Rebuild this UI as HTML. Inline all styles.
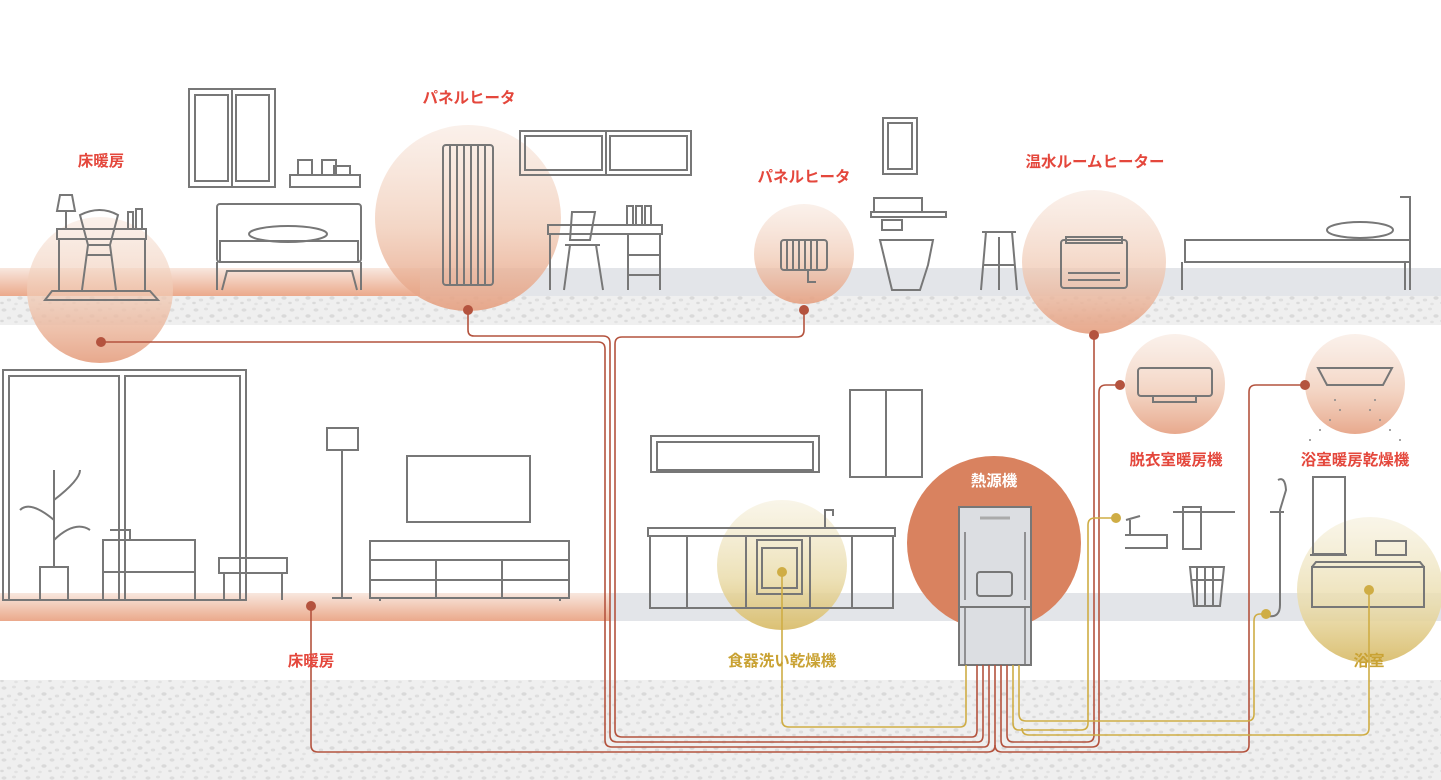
<!DOCTYPE html>
<html><head><meta charset="utf-8"><style>
html,body{margin:0;padding:0;background:#fff;}
svg{display:block;}
text{font-family:"Liberation Sans","Noto Sans CJK JP",sans-serif;font-size:15.5px;font-weight:bold;}
</style></head><body>
<svg width="1441" height="780" viewBox="0 0 1441 780" xmlns="http://www.w3.org/2000/svg">
<defs>
<pattern id="sp" width="24" height="18" patternUnits="userSpaceOnUse">
<rect width="24" height="18" fill="#efefef"/>
<ellipse cx="4" cy="4" rx="2.5" ry="1.6" fill="#dcdcdc"/>
<ellipse cx="14" cy="3" rx="2" ry="1.4" fill="#e0e0e0"/>
<ellipse cx="20" cy="10" rx="2.6" ry="1.7" fill="#d9d9d9"/>
<ellipse cx="9" cy="12" rx="2.2" ry="1.5" fill="#dedede"/>
<ellipse cx="2" cy="15" rx="1.8" ry="1.2" fill="#dadada"/>
<ellipse cx="16" cy="16" rx="1.8" ry="1.2" fill="#e2e2e2"/>
</pattern>
<linearGradient id="pk" x1="0" y1="0" x2="0" y2="1">
<stop offset="0" stop-color="#f8e7de"/><stop offset="1" stop-color="#eba98b"/></linearGradient>
<linearGradient id="cpk" x1="0" y1="0" x2="0" y2="1">
<stop offset="0" stop-color="#f6e2d6" stop-opacity="0.5"/><stop offset="0.55" stop-color="#f0c9b3" stop-opacity="0.75"/><stop offset="1" stop-color="#e59f80" stop-opacity="0.9"/></linearGradient>
<linearGradient id="cgd" x1="0" y1="0" x2="0" y2="1">
<stop offset="0" stop-color="#f5efda" stop-opacity="0.6"/><stop offset="0.6" stop-color="#eadcab" stop-opacity="0.85"/><stop offset="1" stop-color="#d9bd6c" stop-opacity="0.95"/></linearGradient>
</defs>

<rect x="0" y="268" width="1441" height="28" fill="#e3e5e9"/>
<rect x="0" y="268" width="420" height="28" fill="url(#pk)"/>
<rect x="0" y="296" width="1441" height="29" fill="url(#sp)"/>
<rect x="0" y="593" width="1441" height="28" fill="#e3e5e9"/>
<rect x="0" y="593" width="610" height="28" fill="url(#pk)"/>
<rect x="0" y="680" width="1441" height="100" fill="url(#sp)"/>

<circle cx="100" cy="290" r="73" fill="url(#cpk)"/>
<circle cx="468" cy="218" r="93" fill="url(#cpk)"/>
<circle cx="804" cy="254" r="50" fill="url(#cpk)"/>
<circle cx="1094" cy="262" r="72" fill="url(#cpk)"/>
<circle cx="1175" cy="384" r="50" fill="url(#cpk)"/>
<circle cx="1355" cy="384" r="50" fill="url(#cpk)"/>
<circle cx="994" cy="543" r="87" fill="#d9825f"/>
<circle cx="782" cy="565" r="65" fill="url(#cgd)"/>
<circle cx="1370" cy="590" r="73" fill="url(#cgd)"/>

<g fill="none" stroke="#777" stroke-width="2">
<rect x="189" y="89" width="86" height="98"/><line x1="232" y1="89" x2="232" y2="187"/><rect x="195" y="95" width="33" height="86"/><rect x="236" y="95" width="33" height="86"/>
<rect x="290" y="175" width="70" height="12"/><rect x="298" y="160" width="14" height="15"/><rect x="322" y="160" width="14" height="15"/><rect x="334" y="166" width="16" height="9"/>
<rect x="217" y="204" width="144" height="58" rx="3"/><rect x="220" y="241" width="138" height="21"/><ellipse cx="288" cy="234" rx="39" ry="8"/>
<path d="M217 262 V290 M361 262 V290 M222 290 L227 271 H352 L357 290"/>
<rect x="57" y="229" width="89" height="10"/><line x1="59" y1="239" x2="59" y2="290"/><line x1="145" y1="239" x2="145" y2="290"/>
<path d="M60 195 H72 L75 211 H57 Z"/><line x1="66" y1="211" x2="66" y2="229"/>
<path d="M80 215 Q100 205 118 215 L110 245 H88 Z"/><path d="M88 245 L82 290 M110 245 L116 290 M86 255 H112"/>
<path d="M45 300 L52 291 H150 L158 300 Z"/>
<rect x="128" y="212" width="5" height="17"/><rect x="136" y="209" width="6" height="20"/>
<rect x="443" y="145" width="50" height="140" rx="3"/><path d="M450 145 V285 M457 145 V285 M464 145 V285 M471 145 V285 M478 145 V285 M485 145 V285"/>
<rect x="520" y="131" width="171" height="44"/><line x1="606" y1="131" x2="606" y2="175"/><rect x="525" y="136" width="77" height="34"/><rect x="610" y="136" width="77" height="34"/>
<rect x="548" y="225" width="114" height="9"/><path d="M550 234 V290 M660 234 V290 M628 234 V290 M628 255 H660 M628 275 H660"/>
<path d="M572 212 H595 L590 240 H570 Z M565 245 H600 M570 245 L564 290 M596 245 L603 290"/>
<rect x="627" y="206" width="6" height="19"/><rect x="636" y="206" width="6" height="19"/><rect x="645" y="206" width="6" height="19"/>
<rect x="781" y="240" width="46" height="30" rx="3"/><path d="M787 240 V270 M793 240 V270 M799 240 V270 M805 240 V270 M811 240 V270 M817 240 V270 M808 270 V282 H816"/>
<rect x="883" y="118" width="34" height="56"/><rect x="888" y="123" width="24" height="46"/>
<rect x="874" y="198" width="48" height="14"/><rect x="871" y="212" width="75" height="5"/><rect x="882" y="220" width="20" height="10"/>
<path d="M880 240 H933 L928 265 L920 290 H892 L886 265 Z"/>
<path d="M982 232 H1016 M986 232 L981 290 M1012 232 L1017 290 M983 265 H1014 M999 237 V290"/>
<rect x="1061" y="240" width="66" height="48" rx="3"/><rect x="1066" y="237" width="56" height="6"/>
<path d="M1068 273 H1120 M1068 280 H1120"/>
<path d="M1185 240 H1410 V262 H1185 Z M1400 197 L1410 197 V290 M1182 262 V290 M1405 262 V290"/><ellipse cx="1360" cy="230" rx="33" ry="8"/>
<rect x="3" y="370" width="243" height="230"/><rect x="9" y="376" width="110" height="224"/><rect x="125" y="376" width="115" height="224"/>
<path d="M40 600 V567 H68 V600 M54 567 V470 M54 520 Q30 500 20 510 M54 500 Q80 480 80 470 M54 540 Q75 520 90 530"/>
<path d="M103 600 V540 H195 V600 M110 530 H130 V540 M103 572 H195"/>
<rect x="219" y="558" width="68" height="15"/><path d="M224 573 V600 M282 573 V600"/>
<rect x="327" y="428" width="31" height="22"/><path d="M342 450 V598 M332 598 H352"/>
<rect x="407" y="456" width="123" height="66"/>
<rect x="370" y="541" width="199" height="57"/><path d="M370 560 H569 M370 580 H569 M436 560 V598 M502 560 V598 M380 598 V601 M560 598 V601"/>
<rect x="651" y="436" width="168" height="36"/><rect x="657" y="442" width="156" height="28"/>
<rect x="850" y="390" width="72" height="87"/><line x1="886" y1="390" x2="886" y2="477"/>
<rect x="648" y="528" width="247" height="8"/><rect x="650" y="536" width="243" height="72"/>
<path d="M687 536 V608 M746 536 V608 M852 536 V608 M810 536 V608"/><path d="M825 528 V510 H833 V516"/>
<rect x="757" y="540" width="45" height="54"/><rect x="762" y="548" width="35" height="40"/>
<path d="M1126 520 L1140 516 M1130 520 V535 H1140 M1125 535 H1167 V548 H1125"/>
<rect x="1183" y="507" width="18" height="42"/><path d="M1173 512 H1235"/>
<path d="M1190 567 H1224 L1220 606 H1194 Z M1197 567 V606 M1205 567 V606 M1213 567 V606 M1191 580 H1223"/>
<path d="M1278 480 Q1285 476 1286 490 L1280 510 V605 Q1280 618 1268 616 M1270 512 H1284"/>
<rect x="1313" y="477" width="32" height="77"/><path d="M1310 555 H1347"/>
<rect x="1376" y="541" width="30" height="14"/>
<rect x="1312" y="567" width="112" height="40"/><path d="M1312 567 L1316 562 H1420 L1424 567"/>
<rect x="1138" y="368" width="74" height="28" rx="3"/><path d="M1153 396 V402 H1196 V396"/>
<path d="M1318 368 H1392 L1383 385 H1327 Z"/>
</g>
<g fill="#888">
<circle cx="1335" cy="400" r="1"/><circle cx="1340" cy="410" r="1"/><circle cx="1330" cy="420" r="1"/><circle cx="1320" cy="430" r="1"/><circle cx="1310" cy="440" r="1"/>
<circle cx="1375" cy="400" r="1"/><circle cx="1370" cy="410" r="1"/><circle cx="1380" cy="420" r="1"/><circle cx="1390" cy="430" r="1"/><circle cx="1400" cy="440" r="1"/>
</g>

<rect x="959" y="507" width="72" height="158" fill="#dcdee2" stroke="#777" stroke-width="2"/>
<line x1="959" y1="607" x2="1031" y2="607" stroke="#777" stroke-width="2"/>
<rect x="977" y="572" width="35" height="24" rx="3" fill="none" stroke="#777" stroke-width="2"/>
<line x1="980" y1="518" x2="1010" y2="518" stroke="#aaa" stroke-width="3"/>
<path d="M965 532 V600 M1025 532 V600 M965 607 V665 M1025 607 V665" stroke="#777" stroke-width="1.5"/>

<g fill="none" stroke="#b4533e" stroke-width="1.6">
<path d="M101 342 H598 Q605 342 605 349 V740 Q605 747 612 747 H984 Q989 747 989 740 V665"/>
<path d="M468 310 V330 Q468 336 474 336 H603 Q610 336 610 343 V735 Q610 742 617 742 H978 Q983 742 983 735 V665"/>
<path d="M804 310 V330 Q804 337 797 337 H622 Q615 337 615 344 V730 Q615 737 622 737 H972 Q977 737 977 730 V665"/>
<path d="M311 606 V745 Q311 752 318 752 H988 Q995 752 995 745 V665"/>
<path d="M1094 335 V735 Q1094 742 1087 742 H1013 Q1007 742 1007 735 V665"/>
<path d="M1118 385 H1106 Q1099 385 1099 392 V740 Q1099 747 1092 747 H1007 Q1001 747 1001 740 V665"/>
<path d="M1305 385 H1256 Q1249 385 1249 392 V745 Q1249 752 1242 752 H1002 Q995 752 995 745"/>
</g>
<g fill="none" stroke="#cfad45" stroke-width="1.6">
<path d="M782 572 V720 Q782 727 789 727 H960 Q966 727 966 720 V665"/>
<path d="M1118 518 H1095 Q1088 518 1088 525 V723 Q1088 730 1081 730 H1019 Q1013 730 1013 723 V665"/>
<path d="M1266 614 H1260 Q1254 614 1254 621 V714 Q1254 721 1247 721 H1026 Q1019 721 1019 714 V665"/>
<path d="M1369 590 V728 Q1369 735 1362 735 H1029 Q1022 735 1022 728"/>
</g>
<g fill="#b4533e">
<circle cx="101" cy="342" r="5"/><circle cx="468" cy="310" r="5"/><circle cx="804" cy="310" r="5"/><circle cx="311" cy="606" r="5"/>
<circle cx="1094" cy="335" r="5"/><circle cx="1120" cy="385" r="5"/><circle cx="1305" cy="385" r="5"/>
</g>
<g fill="#cfad45">
<circle cx="782" cy="572" r="5"/><circle cx="1116" cy="518" r="5"/><circle cx="1266" cy="614" r="5"/><circle cx="1369" cy="590" r="5"/>
</g>

<g fill="#e4473c" text-anchor="middle">
<text x="101" y="166">床暖房</text>
<text x="469" y="103">パネルヒータ</text>
<text x="804" y="182">パネルヒータ</text>
<text x="1095" y="167">温水ルームヒーター</text>
<text x="1176" y="465">脱衣室暖房機</text>
<text x="1355" y="465">浴室暖房乾燥機</text>
<text x="311" y="666">床暖房</text>
</g>
<text x="994" y="486" fill="#fff" text-anchor="middle">熱源機</text>
<g fill="#c9a233" text-anchor="middle">
<text x="782" y="666">食器洗い乾燥機</text>
<text x="1369" y="666">浴室</text>
</g>
</svg>
</body></html>
